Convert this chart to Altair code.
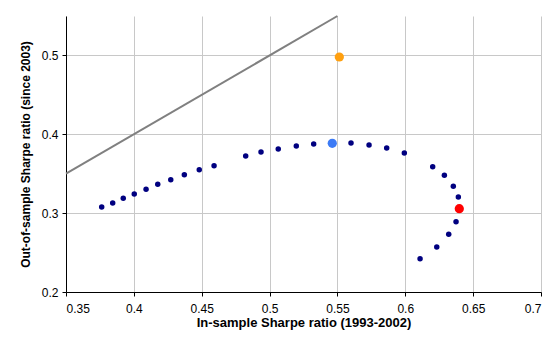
import altair as alt
import pandas as pd

# navy series (in-sample, out-of-sample)
navy_x = [0.3763, 0.3844, 0.3922, 0.4003, 0.4090, 0.4176, 0.4272, 0.4372, 0.4482, 0.4591,
          0.4824, 0.4937, 0.5064, 0.5197, 0.5325, 0.5600, 0.5733, 0.5863, 0.5993,
          0.6202, 0.6288, 0.6354, 0.6391, 0.6374, 0.6320, 0.6232, 0.6109]
navy_y = [0.3078, 0.3129, 0.3188, 0.3243, 0.3302, 0.3366, 0.3424, 0.3487, 0.3551, 0.3602,
          0.3725, 0.3776, 0.3814, 0.3852, 0.3877, 0.3889, 0.3864, 0.3826, 0.3763,
          0.3589, 0.3480, 0.3340, 0.3205, 0.2891, 0.2732, 0.2571, 0.2422]

special_x = [0.5462, 0.6398, 0.5514]
special_y = [0.3886, 0.3056, 0.4980]
special_c = ["#3d7bf5", "#ff0000", "#ffa010"]
special_k = ["blue", "red", "orange"]

diag_x = [0.35, 0.55]
diag_y = [0.35, 0.55]

navy = pd.DataFrame({"x": navy_x, "y": navy_y})
special = pd.DataFrame({"x": special_x, "y": special_y, "k": special_k})
diag = pd.DataFrame({"x": diag_x, "y": diag_y})

xs = alt.Scale(domain=[0.35, 0.7], nice=False, zero=False)
ys = alt.Scale(domain=[0.2, 0.55], nice=False, zero=False)

xax = alt.Axis(values=[0.35, 0.4, 0.45, 0.5, 0.55, 0.6, 0.65, 0.7],
               labelExpr="format(datum.value, '.2~f')",
               labelPadding=7, titlePadding=2, titleFontSize=13,
               title="In-sample Sharpe ratio (1993-2002)")
yax = alt.Axis(values=[0.2, 0.25, 0.3, 0.35, 0.4, 0.45, 0.5, 0.55],
               labelExpr="format(datum.value, '.2~f')",
               labelPadding=4, titlePadding=9, titleFontSize=12,
               title="Out-of-sample Sharpe ratio (since 2003)")

line = alt.Chart(diag).mark_line(color="#808080", strokeWidth=2).encode(
    x=alt.X("x:Q", scale=xs, axis=xax),
    y=alt.Y("y:Q", scale=ys, axis=yax),
)

pts = alt.Chart(navy).mark_circle(color="#000080", size=30, opacity=1).encode(
    x="x:Q", y="y:Q"
)

sp = alt.Chart(special).mark_circle(size=85, opacity=1).encode(
    x="x:Q", y="y:Q",
    color=alt.Color("k:N", scale=alt.Scale(domain=special_k, range=special_c), legend=None),
)

chart = alt.layer(line, pts, sp).properties(
    width=475, height=276,
    autosize=alt.AutoSizeParams(type="none"),
    padding={"left": 58, "top": 8, "right": 1, "bottom": 40},
).configure_view(stroke=None).configure_axis(
    labelFont="Liberation Sans", labelFontSize=12, labelColor="#000000",
    titleFont="Liberation Sans", titleFontWeight="bold", titleColor="#000000",
    domainColor="#000000", tickColor="#000000", tickSize=4,
    gridColor="#c8c8c8", gridWidth=1,
)

chart.save("out.html", embed_options={"renderer": "svg", "actions": False})
